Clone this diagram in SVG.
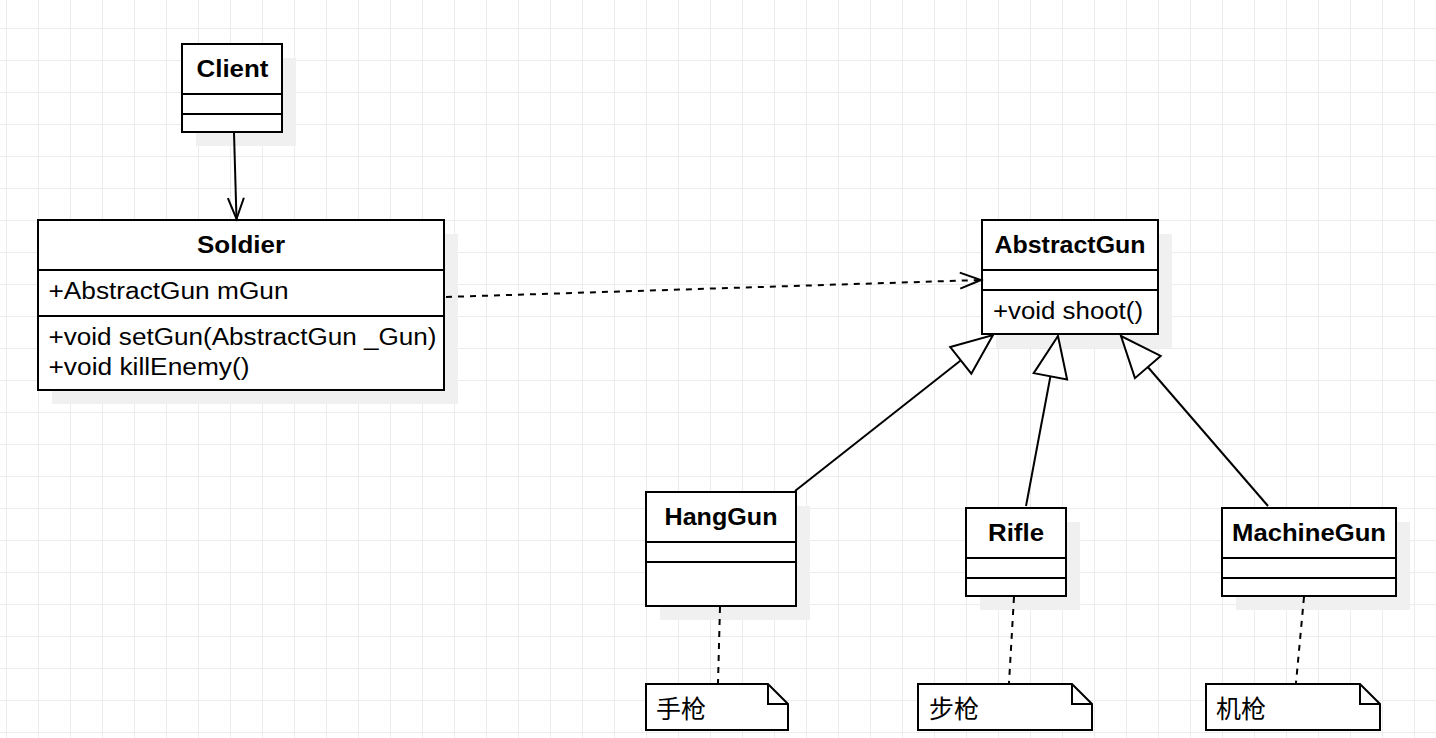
<svg xmlns="http://www.w3.org/2000/svg" width="1436" height="738" viewBox="0 0 1436 738">
<style>
.box{fill:#ffffff;stroke:#000000;stroke-width:2}
.shadow{fill:#f0f0f0;stroke:none}
.div{stroke:#000000;stroke-width:2;fill:none}
.t{font-family:"Liberation Sans",Arial,sans-serif;font-size:23px;fill:#000000}
.b{font-weight:bold;text-anchor:middle}
.cjk{font-family:"Noto Sans CJK SC","Noto Sans CJK JP",sans-serif;font-size:25px;fill:#000000}
.line{stroke:#000000;stroke-width:2;fill:none}
.dash{stroke:#000000;stroke-width:2;fill:none;stroke-dasharray:6 6}
.note{fill:#ffffff;stroke:#000000;stroke-width:2;stroke-linejoin:miter}
</style>
<defs>
<pattern id="grid" patternUnits="userSpaceOnUse" x="6" y="28" width="32" height="32">
<path d="M0 0.5 H32 M0.5 0 V32" stroke="#ececec" stroke-width="1" fill="none"/>
</pattern>
<marker id="open" markerUnits="userSpaceOnUse" viewBox="-24 -12 28 24" markerWidth="28" markerHeight="24" refX="0" refY="0" orient="auto" overflow="visible">
<path d="M-21 -8 L0 0 L-21 8" fill="none" stroke="#000000" stroke-width="2" stroke-dasharray="none"/>
</marker>
<marker id="tri" markerUnits="userSpaceOnUse" viewBox="-44 -20 48 40" markerWidth="48" markerHeight="40" refX="0" refY="0" orient="auto" overflow="visible">
<path d="M-41 -17 L0 0 L-41 17 Z" fill="#ffffff" stroke="#000000" stroke-width="2"/>
</marker>
</defs>
<rect x="0" y="0" width="1436" height="738" fill="#ffffff"/>
<rect x="0" y="0" width="1436" height="738" fill="url(#grid)"/>

<g id="client">
<rect class="shadow" x="196" y="58" width="100" height="88"/>
<rect class="box" x="182" y="44" width="100" height="88"/>
<path class="div" d="M182 94 H282 M182 114 H282"/>
<text class="t b" x="232.5" y="77" textLength="72" lengthAdjust="spacingAndGlyphs">Client</text>
</g>

<g id="soldier">
<rect class="shadow" x="52" y="234" width="406" height="170"/>
<rect class="box" x="38" y="220" width="406" height="170"/>
<path class="div" d="M38 270 H444 M38 316 H444"/>
<text class="t b" x="241" y="253" textLength="88" lengthAdjust="spacingAndGlyphs">Soldier</text>
<text class="t" x="48.5" y="299" textLength="240" lengthAdjust="spacingAndGlyphs">+AbstractGun mGun</text>
<text class="t" x="48.5" y="345" textLength="388" lengthAdjust="spacingAndGlyphs">+void setGun(AbstractGun _Gun)</text>
<text class="t" x="48.5" y="375" textLength="201" lengthAdjust="spacingAndGlyphs">+void killEnemy()</text>
</g>

<g id="abstractgun">
<rect class="shadow" x="996" y="234" width="176" height="114"/>
<rect class="box" x="982" y="220" width="176" height="114"/>
<path class="div" d="M982 270 H1158 M982 290 H1158"/>
<text class="t b" x="1070" y="253" textLength="151" lengthAdjust="spacingAndGlyphs">AbstractGun</text>
<text class="t" x="993" y="319" textLength="150" lengthAdjust="spacingAndGlyphs">+void shoot()</text>
</g>

<g id="hanggun">
<rect class="shadow" x="660" y="506" width="150" height="114"/>
<rect class="box" x="646" y="492" width="150" height="114"/>
<path class="div" d="M646 542 H796 M646 562 H796"/>
<text class="t b" x="721" y="525" textLength="113" lengthAdjust="spacingAndGlyphs">HangGun</text>
</g>

<g id="rifle">
<rect class="shadow" x="980" y="522" width="100" height="88"/>
<rect class="box" x="966" y="508" width="100" height="88"/>
<path class="div" d="M966 558 H1066 M966 578 H1066"/>
<text class="t b" x="1016" y="541" textLength="56" lengthAdjust="spacingAndGlyphs">Rifle</text>
</g>

<g id="machinegun">
<rect class="shadow" x="1236" y="522" width="174" height="88"/>
<rect class="box" x="1222" y="508" width="174" height="88"/>
<path class="div" d="M1222 558 H1396 M1222 578 H1396"/>
<text class="t b" x="1309" y="541" textLength="154" lengthAdjust="spacingAndGlyphs">MachineGun</text>
</g>

<g id="note-hanggun">
<path class="note" d="M646 684 H768 L788 704 V730 H646 Z"/>
<path class="div" d="M768 684 V704 H788"/>
<text class="cjk" x="656" y="718">手枪</text>
</g>

<g id="note-rifle">
<path class="note" d="M918 684 H1072 L1092 704 V730 H918 Z"/>
<path class="div" d="M1072 684 V704 H1092"/>
<text class="cjk" x="929" y="718">步枪</text>
</g>

<g id="note-machinegun">
<path class="note" d="M1206 684 H1360 L1380 704 V730 H1206 Z"/>
<path class="div" d="M1360 684 V704 H1380"/>
<text class="cjk" x="1216" y="718">机枪</text>
</g>

<g id="connectors">
<line class="line" x1="234" y1="133" x2="236.5" y2="219" marker-end="url(#open)"/>
<line class="dash" x1="446" y1="297" x2="981" y2="280" marker-end="url(#open)"/>
<line class="line" x1="795" y1="491" x2="993" y2="335" marker-end="url(#tri)"/>
<line class="line" x1="1026" y1="506" x2="1058" y2="336" marker-end="url(#tri)"/>
<line class="line" x1="1268" y1="506" x2="1121" y2="336" marker-end="url(#tri)"/>
<line class="dash" x1="720" y1="607" x2="718" y2="683"/>
<line class="dash" x1="1014" y1="597" x2="1009" y2="683"/>
<line class="dash" x1="1304" y1="597" x2="1296" y2="683"/>
</g>
</svg>
